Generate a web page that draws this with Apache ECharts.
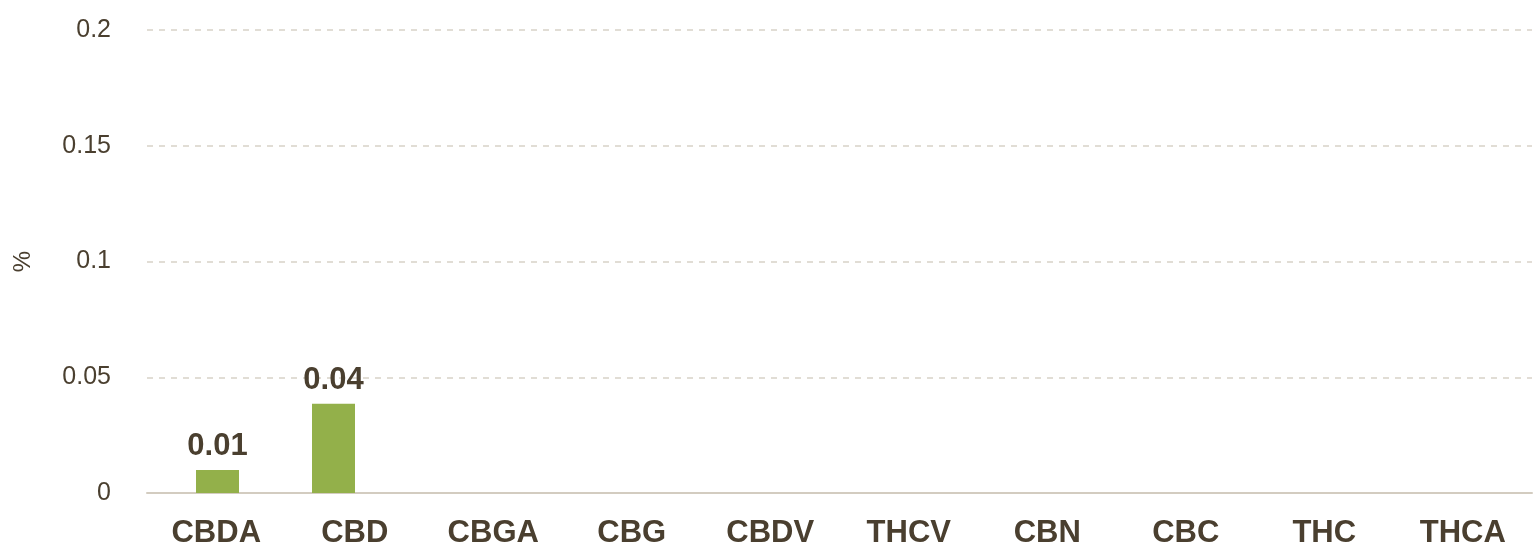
<!DOCTYPE html>
<html><head><meta charset="utf-8">
<script src="https://cdn.jsdelivr.net/npm/echarts@6/dist/echarts.min.js"></script>
<style>html,body{margin:0;padding:0;background:#fff}#c{width:1535px;height:544px}</style>
</head><body><div id="c"></div>
<script>
const categories = ['CBDA','CBD','CBGA','CBG','CBDV','THCV','CBN','CBC','THC','THCA'];
const values = [0.0099, 0.0385, 0, 0, 0, 0, 0, 0, 0, 0];
const yTicks = {min: 0, max: 0.2, interval: 0.05};
const textColor = '#4a3f2f';
const chart = echarts.init(document.getElementById('c'));
chart.setOption({
  animation: false,
  grid: [
    {left: 147, right: 3, top: 30, bottom: 51, outerBoundsMode: 'none', containLabel: false},
    {left: 159.5, right: 215.5, top: 30, bottom: 51, outerBoundsMode: 'none', containLabel: false}
  ],
  xAxis: [{
    type: 'category', data: categories, gridIndex: 0,
    axisLine: {lineStyle: {color: '#d3ccc0', width: 2}},
    axisTick: {show: false},
    axisLabel: {color: textColor, fontFamily: 'Liberation Sans', fontWeight: 'bold', fontSize: 31, margin: 25}
  }, {
    type: 'category', data: categories, gridIndex: 1, show: false
  }],
  yAxis: [{
    type: 'value', gridIndex: 0, min: yTicks.min, max: yTicks.max, interval: yTicks.interval,
    name: '%', nameLocation: 'middle', nameGap: 112,
    nameTextStyle: {color: textColor, fontFamily: 'Liberation Sans', fontSize: 24},
    axisLine: {show: false}, axisTick: {show: false},
    axisLabel: {color: textColor, fontFamily: 'Liberation Sans', fontSize: 25, margin: 36},
    splitLine: {lineStyle: {color: '#d8d2c8', type: [6, 6], width: 1.5}}
  }, {
    type: 'value', gridIndex: 1, min: yTicks.min, max: yTicks.max, show: false, splitLine: {show: false}
  }],
  series: [{
    type: 'bar', data: values, barWidth: 43, xAxisIndex: 1, yAxisIndex: 1,
    itemStyle: {color: '#93b04a'},
    label: {
      show: true, position: 'top', distance: 8,
      color: textColor, fontFamily: 'Liberation Sans', fontWeight: 'bold', fontSize: 31,
      formatter: p => p.value > 0 ? p.value.toFixed(2) : ''
    }
  }]
});
</script></body></html>
